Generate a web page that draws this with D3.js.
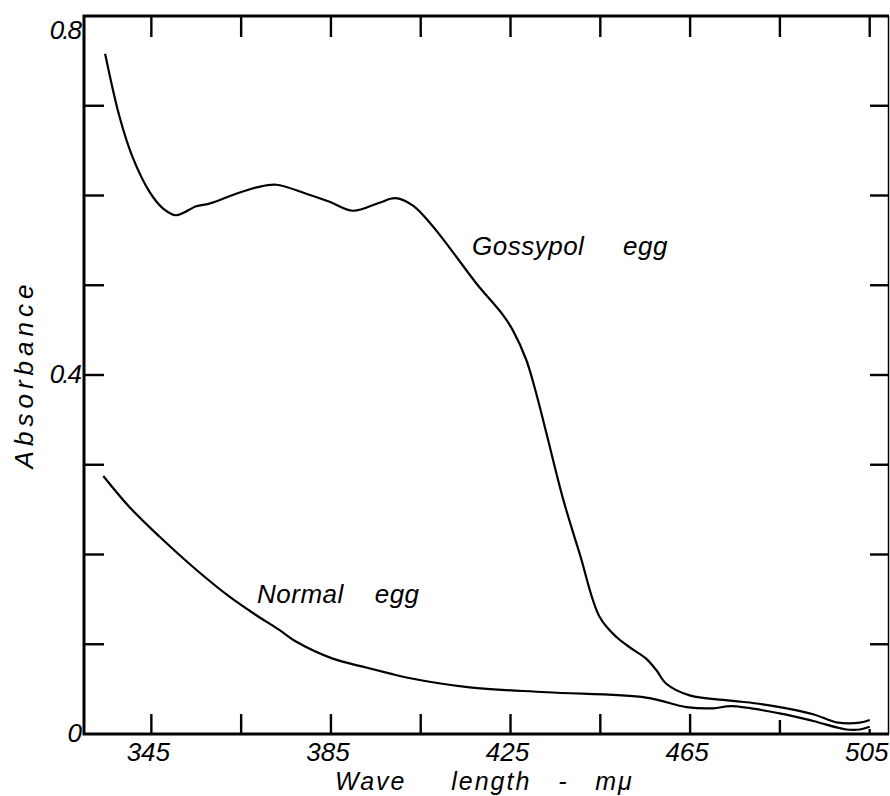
<!DOCTYPE html>
<html>
<head>
<meta charset="utf-8">
<script src="https://cdn.jsdelivr.net/npm/d3@7"></script>
<style>
  html, body { margin: 0; padding: 0; background: #fff; }
  svg text { font-family: "Liberation Sans", Arial, sans-serif; font-style: italic; fill: #000; }
</style>
</head>
<body>
<div id="chart"></div>
<script>
// Gossypol egg absorption curve (wave length in m\u03bc, absorbance)
const gossypolWave = [334.7, 337.9, 340.8, 344.6, 347.5, 350.5, 355.0, 357.9, 363.9, 368.5,
  372.8, 379.5, 384.7, 389.9, 395.8, 399.3, 403.2, 407.3, 411.4, 417.4,
  423.3, 425.5, 428.5, 430.7, 433.0, 436.7, 440.4, 444.8, 448.6, 452.3,
  455.2, 457.5, 459.7, 464.9, 474.5, 481.2, 492.4, 497.6, 502.8, 505.0];
const gossypolAbs = [0.758, 0.688, 0.643, 0.604, 0.586, 0.578, 0.588, 0.591, 0.602, 0.609,
  0.612, 0.602, 0.593, 0.583, 0.592, 0.597, 0.589, 0.568, 0.542, 0.502,
  0.467, 0.450, 0.417, 0.380, 0.335, 0.262, 0.201, 0.131, 0.108, 0.094,
  0.084, 0.071, 0.056, 0.043, 0.037, 0.033, 0.022, 0.013, 0.0126, 0.0156];

// Normal egg absorption curve
const normalWave = [334.3, 340.1, 346.8, 355.0, 362.4, 368.3, 373.5, 377.2, 385.4, 392.1,
  398.0, 401.8, 415.9, 433.0, 455.2, 464.2, 470.1, 474.2, 484.9, 492.4,
  499.8, 502.8, 505.0];
const normalAbs = [0.2875, 0.253, 0.220, 0.183, 0.153, 0.1326, 0.116, 0.103, 0.084, 0.075,
  0.0676, 0.063, 0.052, 0.0465, 0.0405, 0.030, 0.0286, 0.031, 0.023, 0.0145,
  0.005, 0.005, 0.008];

// Axis ticks
const xTicks = [345, 365, 385, 405, 425, 445, 465, 485, 505];
const xTickLabels = ["345", "", "385", "", "425", "", "465", "", "505"];
const yTicks = [0, 0.1, 0.2, 0.3, 0.4, 0.5, 0.6, 0.7, 0.8];
const yTickLabels = ["0", "", "", "", "0.4", "", "", "", "0.8"];

const width = 890, height = 796;

const svg = d3.select("#chart").append("svg")
  .attr("width", width)
  .attr("height", height);

const x = d3.scaleLinear().domain([330, 509.3]).range([84, 889]);
const y = d3.scaleLinear().domain([0, 0.8]).range([734, 16]);

const [x0, x1] = x.range();
const [yb, yt] = y.range();

// ticks (inward, on all four sides)
const tickLen = 20;
const ticks = svg.append("g").attr("stroke", "#000").attr("stroke-width", 2.4);

xTicks.forEach(v => {
  // bottom ticks near the right are partly hidden by the curves
  const len = v === 505 ? 5 : v === 485 ? 14 : tickLen;
  ticks.append("line")
    .attr("x1", x(v)).attr("x2", x(v))
    .attr("y1", yb).attr("y2", yb - len);
  ticks.append("line")
    .attr("x1", x(v)).attr("x2", x(v))
    .attr("y1", yt).attr("y2", yt + tickLen + 1);
});

yTicks.slice(1, -1).forEach(v => {
  ticks.append("line")
    .attr("x1", x0).attr("x2", x0 + tickLen)
    .attr("y1", y(v)).attr("y2", y(v));
  ticks.append("line")
    .attr("x1", x1).attr("x2", x1 - tickLen + 1)
    .attr("y1", y(v)).attr("y2", y(v));
});

// frame
svg.append("path")
  .attr("d", `M${x1},${yt} L${x0},${yt} L${x0},${yb} L${x1},${yb}`)
  .attr("fill", "none")
  .attr("stroke", "#000")
  .attr("stroke-width", 3);
svg.append("line")
  .attr("x1", x1 - 0.5).attr("x2", x1 - 0.5)
  .attr("y1", yt).attr("y2", yb)
  .attr("stroke", "#000")
  .attr("stroke-width", 1.5);

// curves
const line = d3.line()
  .x(d => x(d[0]))
  .y(d => y(d[1]))
  .curve(d3.curveCatmullRom.alpha(0.5));

const series = [
  d3.zip(gossypolWave, gossypolAbs),
  d3.zip(normalWave, normalAbs)
];

svg.append("g")
  .selectAll("path")
  .data(series)
  .join("path")
  .attr("d", line)
  .attr("fill", "none")
  .attr("stroke", "#000")
  .attr("stroke-width", 2.2)
  .attr("stroke-linejoin", "round");

// x tick labels
svg.append("g")
  .selectAll("text")
  .data(xTicks.filter((d, i) => xTickLabels[i]))
  .join("text")
  .attr("x", d => x(d) - 3)
  .attr("y", 761)
  .attr("text-anchor", "middle")
  .style("font-size", "26px")
  .text(d => xTickLabels[xTicks.indexOf(d)]);

// y tick labels
svg.append("g")
  .selectAll("text")
  .data(yTicks.filter((d, i) => yTickLabels[i]))
  .join("text")
  .attr("x", 80)
  .attr("y", d => Math.max(y(d) + 8, 39))
  .attr("text-anchor", "end")
  .style("font-size", "26px")
  .style("letter-spacing", "-2px")
  .text(d => yTickLabels[yTicks.indexOf(d)]);

// axis titles
svg.append("text")
  .attr("x", 335)
  .attr("y", 790)
  .style("font-size", "25px")
  .style("letter-spacing", "2px")
  .style("white-space", "pre")
  .text("Wave     length   -   m\u03bc");

svg.append("text")
  .attr("transform", "translate(33, 374) rotate(-90)")
  .attr("text-anchor", "middle")
  .style("font-size", "26px")
  .style("letter-spacing", "5px")
  .text("Absorbance");

// curve labels
svg.append("text")
  .attr("x", 472)
  .attr("y", 255)
  .style("font-size", "26px")
  .style("letter-spacing", "0.5px")
  .style("white-space", "pre")
  .text("Gossypol     egg");

svg.append("text")
  .attr("x", 257)
  .attr("y", 603)
  .style("font-size", "26px")
  .style("letter-spacing", "0.5px")
  .style("white-space", "pre")
  .text("Normal    egg");
</script>
</body>
</html>
